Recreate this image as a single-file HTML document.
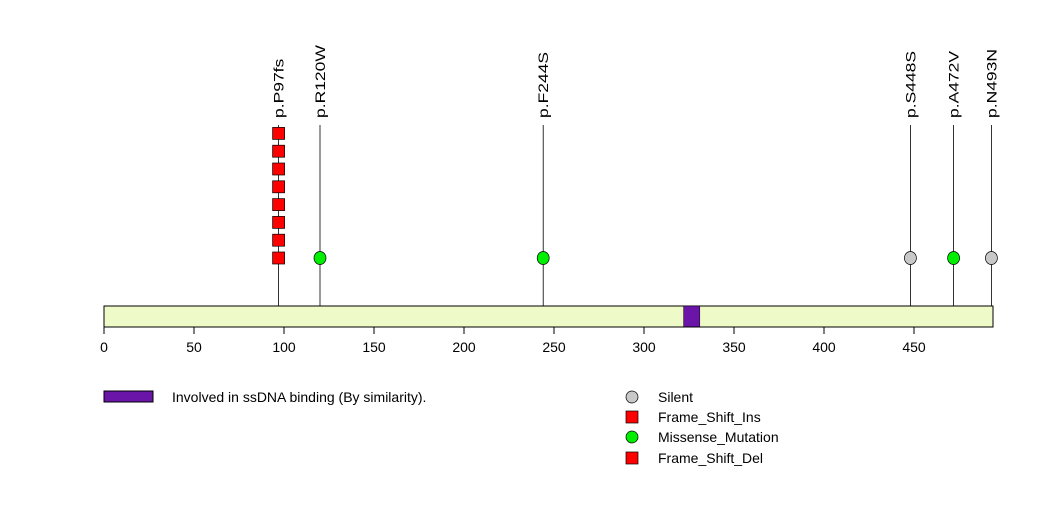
<!DOCTYPE html>
<html><head><meta charset="utf-8"><style>
body{margin:0;background:#fff}
svg{display:block;font-family:"Liberation Sans",sans-serif}
</style></head><body>
<svg id="chart" width="1047" height="524" viewBox="0 0 1047 524">
<g id="stems"></g>
<rect x="104" y="306" width="889" height="21" fill="#eefbc8" stroke="#000" stroke-width="1"/>
<rect id="domain" y="306" height="21" fill="#6a14a8" stroke="#000" stroke-width="0.5"/>
<g id="axis"></g>
<g id="marks"></g>
<g id="legend">
<rect x="104" y="391" width="49" height="11" fill="#6a14a8" stroke="#000"/>
<text x="172" y="402" font-size="14">Involved in ssDNA binding (By similarity).</text>
<circle cx="632" cy="397" r="6" fill="#c8c8c8" stroke="#000" stroke-width="0.7"/>
<text x="658" y="402" font-size="14">Silent</text>
<rect x="626" y="411" width="12" height="12" fill="#ff0000" stroke="#000" stroke-width="0.7"/>
<text x="658" y="422" font-size="14">Frame_Shift_Ins</text>
<circle cx="632" cy="437" r="6" fill="#00ee00" stroke="#000" stroke-width="0.7"/>
<text x="658" y="442" font-size="14">Missense_Mutation</text>
<rect x="626" y="452" width="12" height="12" fill="#ff0000" stroke="#000" stroke-width="0.7"/>
<text x="658" y="463" font-size="14">Frame_Shift_Del</text>
</g>
</svg>
<script>
const ticks=[0,50,100,150,200,250,300,350,400,450];
const mutPos=[97,120,244,448,472,493];
const mutLabels=["p.P97fs","p.R120W","p.F244S","p.S448S","p.A472V","p.N493N"];
const mutCounts=[8,1,1,1,1,1];
const mutTypes=["square","missense","missense","silent","missense","silent"];
const domainRange=[322,331];
const ns="http://www.w3.org/2000/svg";
const X=v=>104+v*1.8;
const Y=i=>258-i*17.8;
function mk(t,a,p){const e=document.createElementNS(ns,t);for(const k in a)e.setAttribute(k,a[k]);p.appendChild(e);return e;}
const dom=document.getElementById('domain');
dom.setAttribute('x',X(domainRange[0]));dom.setAttribute('width',X(domainRange[1])-X(domainRange[0]));
const ax=document.getElementById('axis');
const base=mk('line',{x1:X(0),x2:X(493),y1:327,y2:327,stroke:'#000'},ax);


ticks.forEach(t=>{
 const l=mk('line',{x1:X(t),x2:X(t),y1:327,y2:334,stroke:'#000'},ax);
 
 
 const tx=mk('text',{x:X(t),y:352,'font-size':14,'text-anchor':'middle'},ax);tx.textContent=t;
 
 
});
const st=document.getElementById('stems'),mg=document.getElementById('marks');
mutPos.forEach((p,i)=>{
 const x=X(p);
 const s=mk('line',{x1:x,x2:x,y1:125,y2:327,stroke:'#000','stroke-width':0.8},st);
 
 
 const lb=mk('text',{x:0,y:0,'font-size':14,transform:`translate(${x+5},118) rotate(-90) scale(1.25,1)`},mg);lb.textContent=mutLabels[i];
 
 
 for(let k=0;k<mutCounts[i];k++){
  let e;
  if(mutTypes[i]==='square') e=mk('rect',{x:x-6,y:Y(k)-6,width:12,height:12,fill:'#ff0000',stroke:'#000','stroke-width':0.7},mg);
  else e=mk('ellipse',{cx:x,cy:Y(k),rx:6,ry:6.5,fill:mutTypes[i]==='silent'?'#c8c8c8':'#00ee00',stroke:'#000','stroke-width':0.7},mg);
  
  
 }
});
</script>
</body></html>
